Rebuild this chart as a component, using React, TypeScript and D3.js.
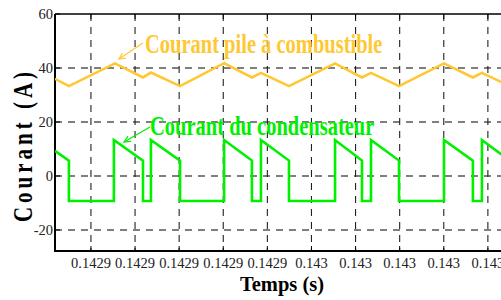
import React, { useRef, useEffect } from "react";
import * as d3 from "d3";

// fuel cell current (A) vs time (s)
const pileTime = [
  0.1428437, 0.14285, 0.1428709, 0.1428836, 0.1428872, 0.1429004, 0.1429204,
  0.142933, 0.1429371, 0.1429498, 0.1429707, 0.1429829, 0.142987, 0.1429997,
  0.1430201, 0.1430332, 0.1430373, 0.14305, 0.14306,
];
const pileCurrent = [
  36.0, 33.3, 41.7, 36.5, 38.3, 33.3, 41.8, 36.5, 38.2, 33.3, 41.7, 36.5, 38.2,
  33.3, 41.7, 36.5, 38.2, 33.3, 36.0,
];

// capacitor current (A) vs time (s)
const condTime = [
  0.1428437, 0.14285, 0.14285, 0.1428704, 0.1428704, 0.1428836, 0.1428836,
  0.1428872, 0.1428872, 0.1429004, 0.1429004, 0.1429204, 0.1429204, 0.142933,
  0.142933, 0.1429371, 0.1429371, 0.1429498, 0.1429498, 0.1429707, 0.1429707,
  0.1429829, 0.1429829, 0.142987, 0.142987, 0.1429997, 0.1429997, 0.1430201,
  0.1430201, 0.1430332, 0.1430332, 0.1430373, 0.1430373, 0.14305, 0.14305,
  0.14306,
];
const condCurrent = [
  9.3, 5.7, -9.3, -9.3, 13.3, 5.7, -9.3, -9.3, 13.3, 5.7, -9.3, -9.3, 13.3, 5.7,
  -9.3, -9.3, 13.3, 5.7, -9.3, -9.3, 13.3, 5.7, -9.3, -9.3, 13.3, 5.7, -9.3,
  -9.3, 13.3, 5.7, -9.3, -9.3, 13.3, 5.7, -9.3, -9.3,
];

const xTicks = [
  0.14286, 0.14288, 0.1429, 0.14292, 0.14294, 0.14296, 0.14298, 0.143, 0.14302,
  0.14304,
];
const xTickLabels = [
  "0.1429", "0.1429", "0.1429", "0.1429", "0.1429",
  "0.143", "0.143", "0.143", "0.143", "0.143",
];
const yTicks = [-20, 0, 20, 40, 60];

const annotations = [
  {
    text: "Courant pile à combustible",
    color: "#FFC832",
    tip: [0.1428727, 43.3],
    tail: [0.1428836, 49.3],
    at: [0.1428845, 45.6],
  },
  {
    text: "Courant du condensateur",
    color: "#00F000",
    tip: [0.142875, 12.6],
    tail: [0.1428868, 18.1],
    at: [0.1428868, 15.2],
  },
];

const serif = "'Liberation Serif', 'DejaVu Serif', serif";

const Chart = () => {
  const ref = useRef<SVGSVGElement | null>(null);

  useEffect(() => {
    if (!ref.current) return;
    const W = 501;
    const H = 300;
    const left = 55;
    const right = 515;
    const top = 14;
    const bottom = 251;

    const svg = d3.select(ref.current);
    svg.selectAll("*").remove();
    svg.attr("width", W).attr("height", H);

    svg.append("rect").attr("width", W).attr("height", H).attr("fill", "#fff");

    const x = d3.scaleLinear().domain([0.1428437, 0.1430523]).range([left, right]);
    const y = d3.scaleLinear().domain([-27.8, 60]).range([bottom, top]);

    svg
      .append("clipPath")
      .attr("id", "plotclip")
      .append("rect")
      .attr("x", left)
      .attr("y", top)
      .attr("width", right - left)
      .attr("height", bottom - top);

    // grid
    const grid = svg.append("g");
    grid
      .selectAll("line.h")
      .data(yTicks.filter((d) => d !== 60))
      .join("line")
      .attr("x1", left)
      .attr("x2", right)
      .attr("y1", (d) => y(d))
      .attr("y2", (d) => y(d))
      .attr("stroke", "#555")
      .attr("stroke-width", 1.4)
      .attr("stroke-dasharray", "7,6");
    grid
      .selectAll("line.v")
      .data(xTicks)
      .join("line")
      .attr("x1", (d) => x(d))
      .attr("x2", (d) => x(d))
      .attr("y1", top)
      .attr("y2", bottom)
      .attr("stroke", "#222")
      .attr("stroke-width", 1.1)
      .attr("stroke-dasharray", "7,6");

    // tick marks (inward)
    xTicks.forEach((t) => {
      grid.append("line").attr("x1", x(t)).attr("x2", x(t)).attr("y1", bottom).attr("y2", bottom - 5).attr("stroke", "#000");
      grid.append("line").attr("x1", x(t)).attr("x2", x(t)).attr("y1", top).attr("y2", top + 5).attr("stroke", "#000");
    });
    yTicks.forEach((v) => {
      grid.append("line").attr("x1", left).attr("x2", left + 5).attr("y1", y(v)).attr("y2", y(v)).attr("stroke", "#000");
    });

    // frame
    svg.append("line").attr("x1", left).attr("x2", right).attr("y1", top).attr("y2", top).attr("stroke", "#000").attr("stroke-width", 1.3);
    svg.append("line").attr("x1", left).attr("x2", right).attr("y1", bottom).attr("y2", bottom).attr("stroke", "#000").attr("stroke-width", 2);
    svg.append("line").attr("x1", left).attr("x2", left).attr("y1", top).attr("y2", bottom + 1).attr("stroke", "#000").attr("stroke-width", 2);

    // series
    const line = d3
      .line<number>()
      .x((d, i) => 0)
      .y(() => 0);
    const plot = svg.append("g").attr("clip-path", "url(#plotclip)");

    const pile = pileTime.map((t, i) => [x(t), y(pileCurrent[i])] as [number, number]);
    const cond = condTime.map((t, i) => [x(t), y(condCurrent[i])] as [number, number]);
    void line;

    plot
      .append("path")
      .attr("d", d3.line()(pile) as string)
      .attr("fill", "none")
      .attr("stroke", "#FFC832")
      .attr("stroke-width", 2.6)
      .attr("stroke-linejoin", "miter");
    plot
      .append("path")
      .attr("d", d3.line()(cond) as string)
      .attr("fill", "none")
      .attr("stroke", "#00F000")
      .attr("stroke-width", 2.6)
      .attr("stroke-linejoin", "miter");

    // tick labels
    svg
      .selectAll("text.xt")
      .data(xTicks)
      .join("text")
      .attr("x", (d) => x(d))
      .attr("y", 268)
      .attr("text-anchor", "middle")
      .attr("font-family", serif)
      .attr("font-size", 14.5)
      .attr("fill", "#222")
      .text((d, i) => xTickLabels[i]);
    svg
      .selectAll("text.yt")
      .data(yTicks)
      .join("text")
      .attr("x", 53)
      .attr("y", (d) => y(d) + 5)
      .attr("text-anchor", "end")
      .attr("font-family", serif)
      .attr("font-size", 14.5)
      .attr("fill", "#222")
      .text((d) => String(d));

    // axis titles
    svg
      .append("text")
      .attr("x", 282)
      .attr("y", 291)
      .attr("text-anchor", "middle")
      .attr("font-family", serif)
      .attr("font-weight", "bold")
      .attr("font-size", 20.5)
      .attr("fill", "#000")
      .text("Temps (s)");
    svg
      .append("text")
      .attr("transform", "translate(22,145) rotate(-90) scale(1,1.35)")
      .attr("text-anchor", "middle")
      .attr("dominant-baseline", "central")
      .attr("font-family", serif)
      .attr("font-weight", "bold")
      .attr("font-size", 21)
      .attr("letter-spacing", 4)
      .attr("fill", "#000")
      .text("Courant (A)");

    // annotations
    annotations.forEach((a) => {
      const tx = x(a.tip[0]);
      const ty = y(a.tip[1]);
      const sx = x(a.tail[0]);
      const sy = y(a.tail[1]);
      const ang = Math.atan2(ty - sy, tx - sx);
      const hl = 7;
      const spread = 0.45;
      svg.append("line").attr("x1", sx).attr("y1", sy).attr("x2", tx).attr("y2", ty).attr("stroke", a.color).attr("stroke-width", 1.2);
      svg
        .append("path")
        .attr(
          "d",
          `M${tx - hl * Math.cos(ang - spread)},${ty - hl * Math.sin(ang - spread)}L${tx},${ty}L${tx - hl * Math.cos(ang + spread)},${ty - hl * Math.sin(ang + spread)}`
        )
        .attr("fill", "none")
        .attr("stroke", a.color)
        .attr("stroke-width", 1.2);
      svg
        .append("text")
        .attr("transform", `translate(${x(a.at[0])},${y(a.at[1])}) scale(1,1.3)`)
        .attr("font-family", serif)
        .attr("font-weight", "bold")
        .attr("font-size", 20.5)
        .attr("fill", a.color)
        .text(a.text);
    });
  }, []);

  return <svg ref={ref} style={{ position: "absolute", left: 0, top: 0, overflow: "hidden" }} />;
};

const App = () => <Chart />;

export default App;
